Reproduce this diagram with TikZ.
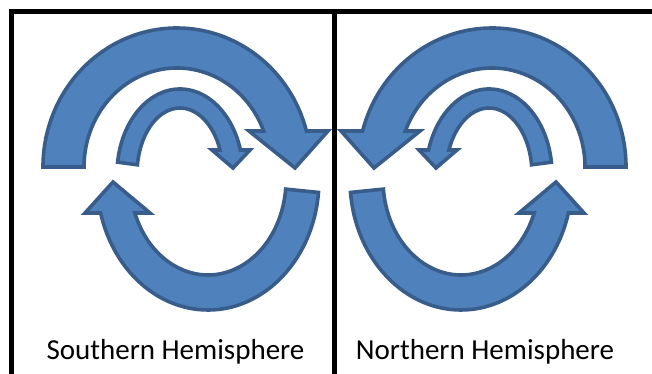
\documentclass[tikz,border=0pt]{standalone}
\usepackage{fontspec}
\setmainfont{Carlito}
\definecolor{arrfill}{RGB}{79,129,189}
\definecolor{arredge}{RGB}{56,93,138}
\tikzset{
  flow/.style={draw=arredge,fill=arrfill,line width=3.6pt},
  frame/.style={draw=black,line width=5pt},
  lbl/.style={font=\fontsize{29}{34}\selectfont,anchor=base,inner sep=0pt}
}
\begin{document}
\begin{tikzpicture}[x=1pt,y=1pt]
\useasboundingbox (0,0) rectangle (652,374);
% frame of the two panels
\draw[frame] (11.5,0) -- (11.5,362.5) -- (652,362.5);
\draw[frame] (334.5,0) -- (334.5,362.5);
% arrows: left panel, then its mirror image
\foreach \s in {1,-1}{
  \begin{scope}[shift={(334.5,0)},xscale=\s]
    % large upper arrow
    \begin{scope}[shift={(-157.5,207)}]
      \draw[flow] (180:134 and 139) arc[start angle=180,end angle=15,x radius=134,y radius=139]
        -- (151,36) -- (118,-1) -- (72,36)
        -- (21.3:93 and 99) arc[start angle=21.3,end angle=180,x radius=93,y radius=99] -- cycle;
    \end{scope}
    % small inner arrow
    \begin{scope}[shift={(-154.5,200)}]
      \draw[flow] (172:63 and 85) arc[start angle=172,end angle=16.4,x radius=63,y radius=85]
        -- (70,24) -- (53,6) -- (32,24)
        -- (21.3:43 and 66) arc[start angle=21.3,end angle=172,x radius=43,y radius=66] -- cycle;
    \end{scope}
    % lower arrow
    \begin{scope}[shift={(-126.5,194)}]
      \draw[flow] (-5.5:111 and 130) arc[start angle=-5.5,end angle=-165.3,x radius=111,y radius=130]
        -- (-123,-33) -- (-95,-2) -- (-58,-33)
        -- (-159.7:78 and 95) arc[start angle=-159.7,end angle=-5.5,x radius=78,y radius=95] -- cycle;
    \end{scope}
  \end{scope}}
% labels
\node[lbl] (south) at (175.5,14) {Southern Hemisphere};
\node[lbl] (north) at (485,14) {Northern Hemisphere};
\end{tikzpicture}
\end{document}
